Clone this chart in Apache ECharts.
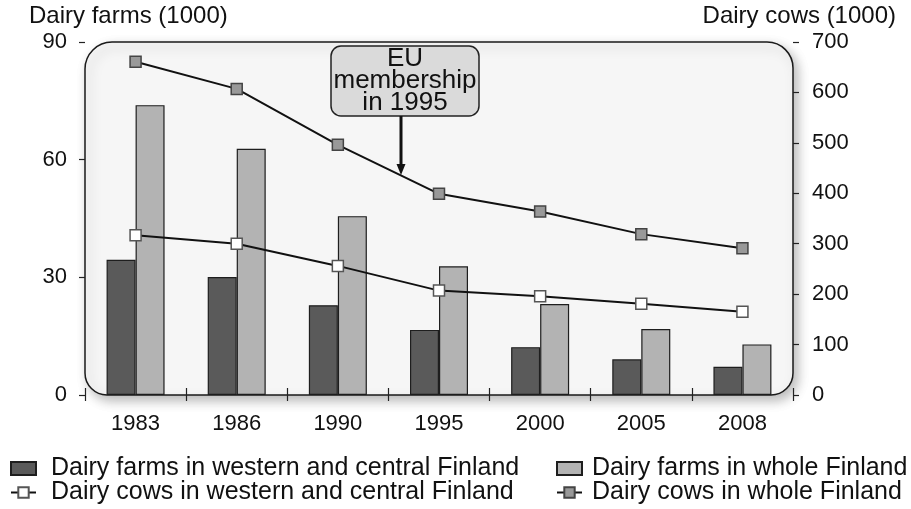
<!DOCTYPE html>
<html>
<head>
<meta charset="utf-8">
<script src="https://cdn.jsdelivr.net/npm/echarts@6/dist/echarts.min.js"></script>
<style>
html,body{margin:0;padding:0;background:#fff;}
#c{width:911px;height:509px;}
</style>
</head>
<body>
<div id="c"></div>
<script>
var years = ['1983', '1986', '1990', '1995', '2000', '2005', '2008'];
var farmsWest = [34.5, 30.1, 22.9, 16.6, 12.2, 9.1, 7.2];
var farmsWhole = [73.9, 62.8, 45.6, 32.8, 23.2, 16.8, 12.9];
var cowsWest = [317, 300, 256, 207, 196, 181, 165];
var cowsWhole = [661, 607, 496, 399, 364, 319, 291];
var leftTicks = {min: 0, max: 90, interval: 30};
var rightTicks = {min: 0, max: 700, interval: 100};
var seriesNames = [
  'Dairy farms in western and central Finland',
  'Dairy farms in whole Finland',
  'Dairy cows in western and central Finland',
  'Dairy cows in whole Finland'
];

var FONT = 'Liberation Sans, Arial, sans-serif';
var GL = 85, GT = 42, GR = 793, GB = 395;

var chart = echarts.init(document.getElementById('c'), null, {renderer: 'canvas'});
var labelStyle = {color: '#111', fontSize: 22, fontFamily: FONT};

function legendAt(name, left, top, pad, icon) {
  var l = {orient: 'horizontal', left: left, top: top, itemWidth: 25, itemHeight: 13,
    padding: 0, selectedMode: false, data: [{name: name}],
    textStyle: {color: '#111', fontSize: 25, fontFamily: FONT, padding: [0, 0, 0, pad]}};
  if (icon) l.data[0].icon = icon;
  return l;
}

chart.setOption({
  animation: false,
  backgroundColor: '#ffffff',
  grid: {left: GL, top: GT, width: GR - GL, height: GB - GT, containLabel: false},
  graphic: [
    {type: 'rect', z: -10, silent: true,
     shape: {x: GL, y: GT, width: GR - GL, height: GB - GT, r: [27, 26, 22, 22]},
     style: {fill: '#f6f6f6', stroke: '#1a1a1a', lineWidth: 1.5,
             shadowBlur: 12, shadowOffsetX: 4, shadowOffsetY: 5, shadowColor: 'rgba(0,0,0,0.28)'}},
    {type: 'text', left: 29, top: 4, z: 10,
     style: {text: 'Dairy farms (1000)', fill: '#111', fontSize: 24, fontFamily: FONT}},
    {type: 'text', right: 15, top: 4, z: 10,
     style: {text: 'Dairy cows (1000)', fill: '#111', fontSize: 24, fontFamily: FONT}},
    {type: 'rect', z: 20, silent: true,
     shape: {x: 331, y: 46, width: 148, height: 70, r: 10},
     style: {fill: '#dadada', stroke: '#222', lineWidth: 1.5}},
    {type: 'text', z: 21, silent: true,
     style: {text: 'EU\nmembership\nin 1995', x: 405, y: 81, align: 'center', verticalAlign: 'middle',
             fill: '#111', fontSize: 26, lineHeight: 22, fontFamily: FONT}},
    {type: 'line', z: 21, silent: true,
     shape: {x1: 401, y1: 116, x2: 401, y2: 166},
     style: {stroke: '#111', lineWidth: 3}},
    {type: 'polygon', z: 21, silent: true,
     shape: {points: [[396.5, 164], [405.5, 164], [401, 175]]},
     style: {fill: '#111'}}
  ],
  legend: [
    legendAt(seriesNames[0], 10, 456, 10, 'rect'),
    legendAt(seriesNames[2], 10, 480, 10),
    legendAt(seriesNames[1], 556, 456, 5, 'rect'),
    legendAt(seriesNames[3], 556, 480, 5)
  ],
  xAxis: [
    {type: 'category', data: years, boundaryGap: true,
     axisLine: {show: false},
     axisTick: {show: true, inside: false, length: 6, lineStyle: {color: '#222', width: 1.2}},
     axisLabel: Object.assign({margin: 18}, labelStyle)},
    {type: 'category', data: years, boundaryGap: true, position: 'bottom', offset: 0,
     axisLine: {show: false},
     axisTick: {show: true, inside: true, length: 7, lineStyle: {color: '#222', width: 1.2}},
     axisLabel: {show: false}}
  ],
  yAxis: [
    {type: 'value', min: leftTicks.min, max: leftTicks.max, interval: leftTicks.interval, position: 'left',
     axisLine: {show: false}, splitLine: {show: false},
     axisTick: {show: true, inside: false, length: 6, lineStyle: {color: '#222', width: 1.2}},
     axisLabel: Object.assign({margin: 18}, labelStyle)},
    {type: 'value', min: rightTicks.min, max: rightTicks.max, interval: rightTicks.interval, position: 'right',
     axisLine: {show: false}, splitLine: {show: false},
     axisTick: {show: true, inside: false, length: 6, lineStyle: {color: '#222', width: 1.2}},
     axisLabel: Object.assign({margin: 19}, labelStyle)}
  ],
  series: [
    {name: seriesNames[0], type: 'bar', data: farmsWest,
     barWidth: 29, barGap: '0%', z: 3,
     itemStyle: {color: '#5a5a5a', borderColor: '#1e1e1e', borderWidth: 1.2}},
    {name: seriesNames[1], type: 'bar', data: farmsWhole,
     barWidth: 29, barGap: '0%', z: 3,
     itemStyle: {color: '#b3b3b3', borderColor: '#1e1e1e', borderWidth: 1.2}},
    {name: seriesNames[2], type: 'line', yAxisIndex: 1, data: cowsWest,
     symbol: 'rect', symbolSize: 11, z: 5,
     lineStyle: {color: '#111', width: 2},
     itemStyle: {color: '#ffffff', borderColor: '#555', borderWidth: 1.5}},
    {name: seriesNames[3], type: 'line', yAxisIndex: 1, data: cowsWhole,
     symbol: 'rect', symbolSize: 11, z: 5,
     lineStyle: {color: '#111', width: 2},
     itemStyle: {color: '#999999', borderColor: '#444', borderWidth: 1.5}}
  ]
});
</script>
</body>
</html>
